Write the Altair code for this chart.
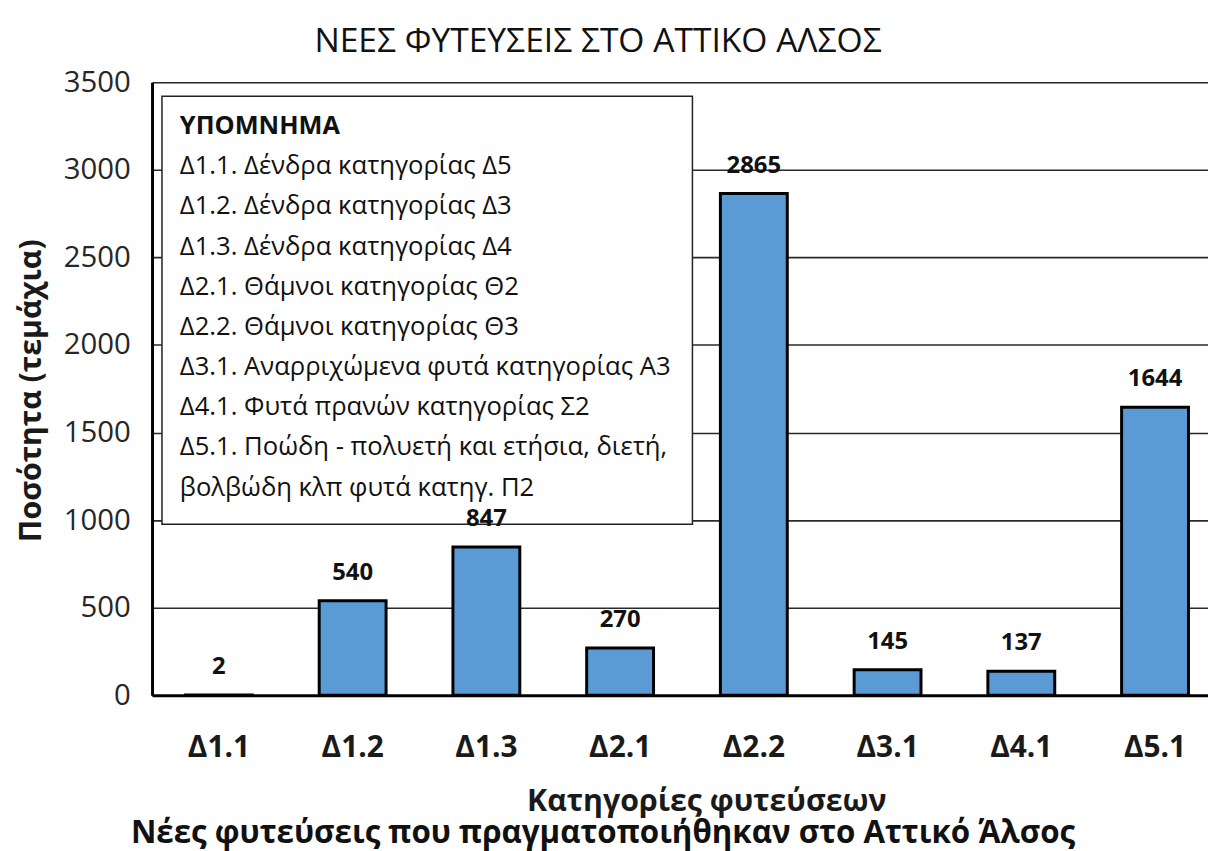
import altair as alt
import pandas as pd

categories = ["Δ1.1", "Δ1.2", "Δ1.3", "Δ2.1", "Δ2.2", "Δ3.1", "Δ4.1", "Δ5.1"]
values = [2, 540, 847, 270, 2865, 145, 137, 1644]
y_ticks = [0, 500, 1000, 1500, 2000, 2500, 3000, 3500]

legend_header = "ΥΠΟΜΝΗΜΑ"
legend_lines = [
    "Δ1.1. Δένδρα κατηγορίας Δ5",
    "Δ1.2. Δένδρα κατηγορίας Δ3",
    "Δ1.3. Δένδρα κατηγορίας Δ4",
    "Δ2.1. Θάμνοι κατηγορίας Θ2",
    "Δ2.2. Θάμνοι κατηγορίας Θ3",
    "Δ3.1. Αναρριχώμενα φυτά κατηγορίας Α3",
    "Δ4.1. Φυτά πρανών κατηγορίας Σ2",
    "Δ5.1. Ποώδη - πολυετή και ετήσια, διετή,",
    "βολβώδη κλπ φυτά κατηγ. Π2",
]
title_text = "ΝΕΕΣ ΦΥΤΕΥΣΕΙΣ ΣΤΟ ΑΤΤΙΚΟ ΑΛΣΟΣ"
x_title = "Κατηγορίες φυτεύσεων"
y_title = "Ποσότητα (τεμάχια)"
caption = "Νέες φυτεύσεις που πραγματοποιήθηκαν στο Αττικό Άλσος"

FONT = "Open Sans"
W, H = 1063, 617

df = pd.DataFrame({"cat": categories, "value": values})
leg_df = pd.DataFrame({"row": list(range(1, len(legend_lines) + 1)), "line": legend_lines})
hdr_df = pd.DataFrame({"t": [legend_header]})
cap_df = pd.DataFrame({"t": [caption]})
ttl_df = pd.DataFrame({"t": [title_text]})

xscale = alt.Scale(domain=categories, range=[0, 1077], paddingInner=0.5,
                   paddingOuter=0.25, round=False)
yscale = alt.Scale(domain=[0, 3500], nice=False)

bars = alt.Chart(df).mark_bar(
    color="#5B9BD5", stroke="black", strokeWidth=3
).encode(
    x=alt.X("cat:N", scale=xscale, sort=categories,
            axis=alt.Axis(title=x_title, labelAngle=0, labelFontSize=30,
                          labelFontWeight="bold", labelFont=FONT, labelColor="#1a1a1a",
                          ticks=False, labelPadding=38, domainColor="black", domainWidth=3,
                          grid=False, titleFont=FONT, titleFontSize=30.5, titleFontWeight="bold",
                          titleColor="#1a1a1a", titleX=558, titleY=107, titleBaseline="middle",
                          titleAnchor="start", titleAlign="center")),
    y=alt.Y("value:Q", scale=yscale,
            axis=alt.Axis(title=y_title, values=y_ticks, format="d", labelFontSize=29.5,
                          labelFont=FONT, labelColor="#262626", ticks=False, labelPadding=22,
                          domainColor="black", domainWidth=3, grid=True, gridColor="#2a2a2a",
                          gridWidth=1.6, titleFont=FONT, titleFontSize=30.5,
                          titleFontWeight="bold", titleColor="#1a1a1a", titleX=-121,
                          titleY=310, titleBaseline="middle", titleAngle=-90,
                          titleAlign="center")),
)

box = alt.Chart(hdr_df).mark_rect(
    fill="white", stroke="#222", strokeWidth=1.5
).encode(x=alt.value(10), x2=alt.value(544), y=alt.value(14), y2=alt.value(445))

header = alt.Chart(hdr_df).mark_text(
    align="left", baseline="alphabetic", font=FONT, fontSize=25.5, fontWeight="bold", color="#111"
).encode(x=alt.value(28), y=alt.value(52), text="t:N")

leg = alt.Chart(leg_df).mark_text(
    align="left", baseline="alphabetic", font=FONT, fontSize=25.8, color="#111"
).encode(
    x=alt.value(28),
    y=alt.Y("row:Q", scale=alt.Scale(domain=[0, 9], range=[52, 52 + 9 * 40.45]), axis=None),
    text="line:N",
)

labels = alt.Chart(df).mark_text(
    baseline="alphabetic", dy=-21, font=FONT, fontSize=24, fontWeight="bold", color="#111"
).encode(
    x=alt.X("cat:N", scale=xscale, sort=categories),
    y=alt.Y("value:Q", scale=yscale, axis=None),
    text="value:Q",
)

ttl = alt.Chart(ttl_df).mark_text(
    baseline="middle", align="center", font=FONT, fontSize=33.8, color="#111"
).encode(x=alt.value(449), y=alt.value(-41), text="t:N")

cap = alt.Chart(cap_df).mark_text(
    baseline="middle", align="center", font=FONT, fontSize=31.5, fontWeight="bold", color="#111"
).encode(x=alt.value(454), y=alt.value(757), text="t:N")

chart = alt.layer(bars, box, header, leg, labels, ttl, cap).resolve_scale(
    y="independent"
).properties(
    width=W, height=H,
    autosize=alt.AutoSizeParams(type="none"),
    padding={"left": 145, "top": 72, "right": 0, "bottom": 154},
).configure_view(stroke="#333", strokeWidth=2).configure(background="white")

chart.save("out.html", embed_options={"renderer": "svg", "actions": False})
